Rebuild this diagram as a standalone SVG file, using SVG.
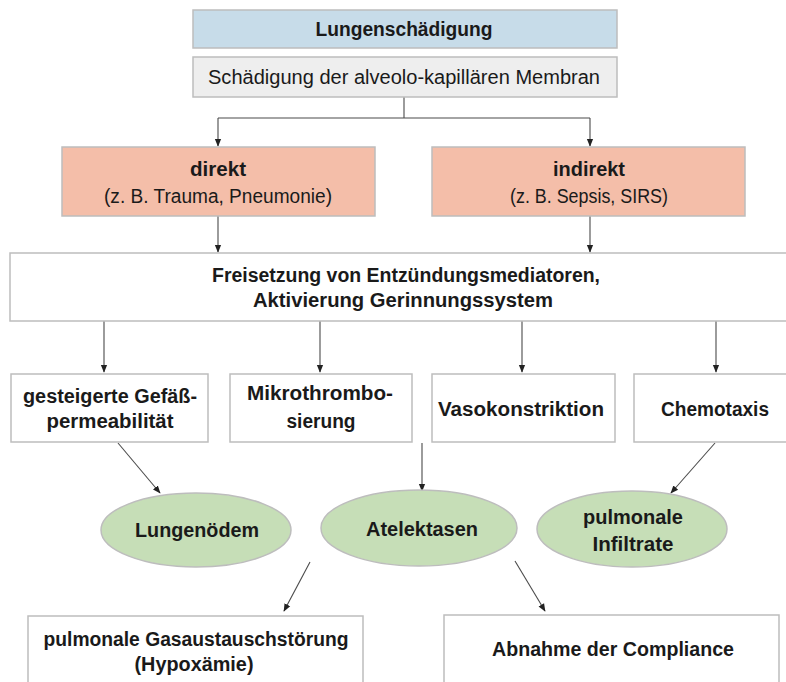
<svg xmlns="http://www.w3.org/2000/svg" width="786" height="682" viewBox="0 0 786 682">
<style>
.box{stroke:#bdbdbd;stroke-width:1.5}
.w{fill:#ffffff}
.t{font-family:"Liberation Sans",Arial,sans-serif;font-size:20px;fill:#1a1a1a;text-anchor:middle}
.b{font-weight:bold}
.c{fill:none;stroke:#4a4a4a;stroke-width:1.1}
</style>
<defs>
<marker id="ah" viewBox="0 0 10 10" refX="9" refY="5" markerWidth="8" markerHeight="8" markerUnits="userSpaceOnUse" orient="auto">
<path d="M0,1 L10,5 L0,9 Z" fill="#222"/>
</marker>
</defs>
<rect width="786" height="682" fill="#ffffff"/>
<g id="connectors">
<polyline class="c" points="404,97 404,118"/>
<polyline class="c" points="218,118 590,118"/>
<line class="c" x1="218" y1="118" x2="218" y2="146" marker-end="url(#ah)"/>
<line class="c" x1="590" y1="118" x2="590" y2="146" marker-end="url(#ah)"/>
<line class="c" x1="218" y1="216" x2="218" y2="252" marker-end="url(#ah)"/>
<line class="c" x1="590" y1="216" x2="590" y2="252" marker-end="url(#ah)"/>
<line class="c" x1="104" y1="321" x2="104" y2="372" marker-end="url(#ah)"/>
<line class="c" x1="320" y1="321" x2="320" y2="372" marker-end="url(#ah)"/>
<line class="c" x1="522" y1="321" x2="522" y2="372" marker-end="url(#ah)"/>
<line class="c" x1="716" y1="321" x2="716" y2="372" marker-end="url(#ah)"/>
<line class="c" x1="118" y1="443" x2="160" y2="493" marker-end="url(#ah)"/>
<line class="c" x1="422" y1="443" x2="422" y2="491" marker-end="url(#ah)"/>
<line class="c" x1="715" y1="443" x2="671" y2="493" marker-end="url(#ah)"/>
<line class="c" x1="310" y1="562" x2="284" y2="611" marker-end="url(#ah)"/>
<line class="c" x1="515" y1="561" x2="545" y2="611" marker-end="url(#ah)"/>
</g>
<g id="lungenschaedigung">
<rect class="box" x="193" y="10" width="424" height="38" fill="#c7dce9"/>
<text class="t b" x="404" y="36" textLength="177" lengthAdjust="spacingAndGlyphs">Lungenschädigung</text>
</g>
<g id="membran">
<rect class="box" x="193" y="57" width="424" height="40" fill="#eeeeee"/>
<text class="t" x="404" y="84" textLength="392" lengthAdjust="spacingAndGlyphs">Schädigung der alveolo-kapillären Membran</text>
</g>
<g id="direkt">
<rect class="box" x="62" y="147" width="313" height="69" fill="#f4bea9"/>
<text class="t b" x="218" y="176" textLength="56" lengthAdjust="spacingAndGlyphs">direkt</text>
<text class="t" x="218" y="203" textLength="228" lengthAdjust="spacingAndGlyphs">(z. B. Trauma, Pneumonie)</text>
</g>
<g id="indirekt">
<rect class="box" x="432" y="147" width="313" height="69" fill="#f4bea9"/>
<text class="t b" x="589" y="176" textLength="72" lengthAdjust="spacingAndGlyphs">indirekt</text>
<text class="t" x="589" y="203" textLength="158" lengthAdjust="spacingAndGlyphs">(z. B. Sepsis, SIRS)</text>
</g>
<g id="freisetzung">
<rect class="box w" x="10" y="253" width="790" height="68"/>
<text class="t b" x="406" y="282" textLength="388" lengthAdjust="spacingAndGlyphs">Freisetzung von Entzündungsmediatoren,</text>
<text class="t b" x="403" y="307" textLength="300" lengthAdjust="spacingAndGlyphs">Aktivierung Gerinnungssystem</text>
</g>
<g id="permeabilitaet">
<rect class="box w" x="11" y="374" width="197" height="68"/>
<text class="t b" x="110" y="403" textLength="174" lengthAdjust="spacingAndGlyphs">gesteigerte Gefäß-</text>
<text class="t b" x="110" y="428" textLength="127" lengthAdjust="spacingAndGlyphs">permeabilität</text>
</g>
<g id="mikrothrombosierung">
<rect class="box w" x="230" y="374" width="182" height="68"/>
<text class="t b" x="320" y="400" textLength="146" lengthAdjust="spacingAndGlyphs">Mikrothrombo-</text>
<text class="t b" x="321" y="428" textLength="69" lengthAdjust="spacingAndGlyphs">sierung</text>
</g>
<g id="vasokonstriktion">
<rect class="box w" x="432" y="374" width="183" height="68"/>
<text class="t b" x="521" y="416" textLength="166" lengthAdjust="spacingAndGlyphs">Vasokonstriktion</text>
</g>
<g id="chemotaxis">
<rect class="box w" x="634" y="374" width="170" height="68"/>
<text class="t b" x="715" y="416" textLength="108" lengthAdjust="spacingAndGlyphs">Chemotaxis</text>
</g>
<g id="lungenoedem">
<ellipse class="box" cx="196" cy="530" rx="95" ry="37" fill="#c6deb7"/>
<text class="t b" x="197" y="537" textLength="124" lengthAdjust="spacingAndGlyphs">Lungenödem</text>
</g>
<g id="atelektasen">
<ellipse class="box" cx="419" cy="528" rx="98" ry="38" fill="#c6deb7"/>
<text class="t b" x="422" y="536" textLength="112" lengthAdjust="spacingAndGlyphs">Atelektasen</text>
</g>
<g id="infiltrate">
<ellipse class="box" cx="632" cy="529" rx="95" ry="38" fill="#c6deb7"/>
<text class="t b" x="633" y="524" textLength="100" lengthAdjust="spacingAndGlyphs">pulmonale</text>
<text class="t b" x="633" y="551" textLength="81" lengthAdjust="spacingAndGlyphs">Infiltrate</text>
</g>
<g id="gasaustausch">
<rect class="box w" x="28" y="616" width="335" height="80"/>
<text class="t b" x="196" y="646" textLength="305" lengthAdjust="spacingAndGlyphs">pulmonale Gasaustauschstörung</text>
<text class="t b" x="194" y="671" textLength="119" lengthAdjust="spacingAndGlyphs">(Hypoxämie)</text>
</g>
<g id="compliance">
<rect class="box w" x="444" y="615" width="335" height="80"/>
<text class="t b" x="613" y="656" textLength="242" lengthAdjust="spacingAndGlyphs">Abnahme der Compliance</text>
</g>
</svg>
